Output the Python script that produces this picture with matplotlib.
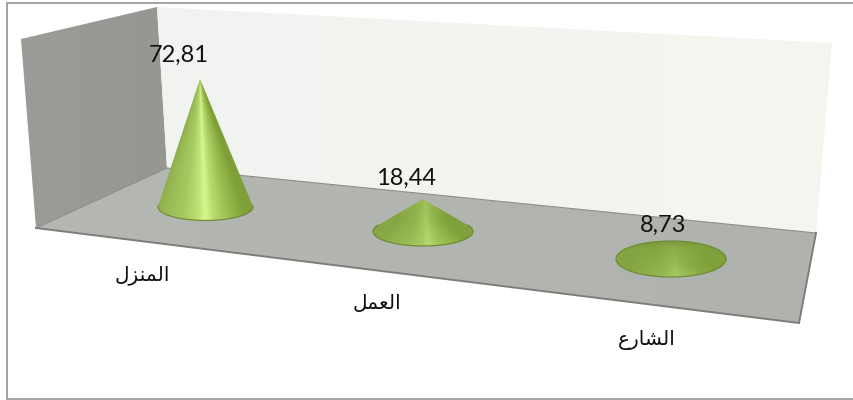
import numpy as np
import matplotlib
matplotlib.use("Agg")
import matplotlib.pyplot as plt
from matplotlib.patches import Polygon, PathPatch, Rectangle
from matplotlib.path import Path

# ---- data ----
categories = ["المنزل", "العمل", "الشارع"]
values = [72.81, 18.44, 8.73]
value_labels = ["72,81", "18,44", "8,73"]

# ---- layout (pixel space of the picture) ----
base_x = [205.5, 423, 671]
base_y = [207, 231.5, 259]
apex_x = [200, 423, 670]
radius_x = [47.5, 50, 55]
radius_y = [13.5, 14.5, 18]
px_per_unit = 1.76
value_label_xy = [(179, 55), (406, 178), (663, 225)]
category_label_xy = [(142, 275), (377, 304), (647, 340)]

# Arabic joining forms (isolated, final, initial, medial); matplotlib does not shape text
FORMS = {
    "ا": ("\uFE8D", "\uFE8E", None, None),
    "ل": ("\uFEDD", "\uFEDE", "\uFEDF", "\uFEE0"),
    "م": ("\uFEE1", "\uFEE2", "\uFEE3", "\uFEE4"),
    "ن": ("\uFEE5", "\uFEE6", "\uFEE7", "\uFEE8"),
    "ز": ("\uFEAF", "\uFEB0", None, None),
    "ع": ("\uFEC9", "\uFECA", "\uFECB", "\uFECC"),
    "ش": ("\uFEB5", "\uFEB6", "\uFEB7", "\uFEB8"),
    "ر": ("\uFEAD", "\uFEAE", None, None),
}


def shape(word):
    out = []
    for i, ch in enumerate(word):
        prev_joins = i > 0 and FORMS[word[i - 1]][2] is not None
        next_exists = i < len(word) - 1
        can_next = FORMS[ch][2] is not None and next_exists
        if prev_joins and can_next:
            out.append(FORMS[ch][3])
        elif prev_joins:
            out.append(FORMS[ch][1])
        elif can_next:
            out.append(FORMS[ch][2])
        else:
            out.append(FORMS[ch][0])
    return "".join(reversed(out))


fig = plt.figure(figsize=(8.54, 4.0), dpi=100, facecolor="white")
ax = fig.add_axes([0, 0, 1, 1])
ax.axis("off")

# outer frame
ax.add_patch(Rectangle((7, 3), 860, 395.5, fc="white", ec="#a3a3a3", lw=1.4, zorder=0))


def gradient_fill(poly, c0, c1, zorder):
    """Fill a polygon with a soft horizontal gradient."""
    xs, ys = zip(*poly)
    c0, c1 = np.array(matplotlib.colors.to_rgb(c0)), np.array(matplotlib.colors.to_rgb(c1))
    t = np.linspace(0, 1, 256)[None, :, None]
    img = c0[None, None, :] * (1 - t) + c1[None, None, :] * t
    im = ax.imshow(img, extent=(min(xs), max(xs), max(ys), min(ys)), aspect="auto",
                   zorder=zorder, interpolation="bilinear")
    patch = Polygon(poly, closed=True, fc="none", ec="none", transform=ax.transData)
    ax.add_patch(patch)
    im.set_clip_path(patch)


# walls and floor
gradient_fill([(21, 39), (157, 7), (167, 168), (36, 228)], "#999c97", "#949792", 1)
gradient_fill([(157, 7), (832, 43), (816, 233), (167, 168)], "#f0f3ef", "#f4f6f0", 1)
gradient_fill([(36, 228), (167, 168), (816, 233), (799, 323)], "#b5b8b2", "#b0b3ad", 1)
ax.plot([36, 167, 816], [228, 168, 233], color="#8d8f8a", lw=0.8, zorder=2)
ax.plot([36, 799, 816], [228, 323, 233], color="#7d7e7a", lw=1.4, zorder=2,
        solid_joinstyle="miter")

stop_t = [-1.0, -0.75, -0.35, -0.05, 0.12, 0.3, 0.65, 1.0]
stop_rgb = np.array([
    [0.55, 0.68, 0.30], [0.60, 0.73, 0.33], [0.65, 0.79, 0.38], [0.74, 0.88, 0.45],
    [0.84, 0.97, 0.55], [0.72, 0.86, 0.43], [0.60, 0.73, 0.30], [0.50, 0.63, 0.22],
])
dim_rgb = np.array([0.50, 0.63, 0.24])

for v, cx, cy, ax_x, rx, ry in zip(values, base_x, base_y, apex_x, radius_x, radius_y):
    ay = cy - v * px_per_unit
    th = np.linspace(0, 2 * np.pi, 721)[:-1]
    ex, ey = cx + rx * np.cos(th), cy + ry * np.sin(th)
    apex_inside = ((ax_x - cx) / rx) ** 2 + ((ay - cy) / ry) ** 2 <= 1
    if apex_inside:
        outline = np.column_stack([ex, ey])
    else:
        ang = np.arctan2(ex - ax_x, ey - ay)
        i_r, i_l = int(np.argmax(ang)), int(np.argmin(ang))
        idx = np.arange(i_r, i_l + 1 if i_l >= i_r else i_l + 721) % 720
        outline = np.vstack([[[ax_x, ay]], np.column_stack([ex[idx], ey[idx]])])

    # surface shading
    x0, x1 = cx - rx - 2, cx + rx + 2
    y0, y1 = min(ay, cy - ry) - 2, cy + ry + 2
    gx, gy = np.meshgrid(np.linspace(x0, x1, 300), np.linspace(y0, y1, 300))
    flat = np.clip(1 - (cy - ay) / 70.0, 0, 1)
    s = np.clip((gy - ay) / (cy + ry - ay), 0.02 + 0.85 * flat, 1)
    t = np.clip((gx - ax_x) / (rx * s), -1, 1)
    img = np.stack([np.interp(t, stop_t, stop_rgb[:, k]) for k in range(3)], axis=-1)
    # the flatter the cone, the duller the light falling on it
    vert = np.clip((gy - min(ay, cy - ry)) / (cy + ry - min(ay, cy - ry)), 0, 1)
    mix = np.clip((0.55 + 0.45 * (1 - vert)) * flat * 1.2, 0, 1)
    img = img * (1 - mix[..., None]) + dim_rgb * mix[..., None]
    if apex_inside:
        # the part of the base showing behind the apex falls into shade
        back = np.clip((ay + 4 - gy) / 14.0, 0, 1)
        img = img * (1 - 0.16 * back[..., None])
    im = ax.imshow(img, extent=(x0, x1, y1, y0), aspect="auto", zorder=4, interpolation="bilinear")
    closed = np.vstack([outline, outline[0]])
    clip = PathPatch(Path(closed), fc="none", ec="none")
    ax.add_patch(clip)
    im.set_clip_path(clip)
    # rim of the base
    if apex_inside:
        ax.plot(closed[:, 0], closed[:, 1], color="#6f8d38", lw=0.9, zorder=5)
    else:
        ax.plot(outline[1:, 0], outline[1:, 1], color="#6f8d38", lw=0.9, zorder=5)

for lab, (lx, ly) in zip(value_labels, value_label_xy):
    ax.text(lx, ly, lab, ha="center", va="center", family="Lato", fontsize=17,
            color="#111111", zorder=6)

for cat, (lx, ly) in zip(categories, category_label_xy):
    ax.text(lx, ly, shape(cat), ha="center", va="center", family="DejaVu Sans",
            fontsize=14.5, color="#111111", zorder=6)

ax.set_xlim(0, 854)
ax.set_ylim(400, 0)
fig.savefig("out.png", dpi=100, facecolor="white")
